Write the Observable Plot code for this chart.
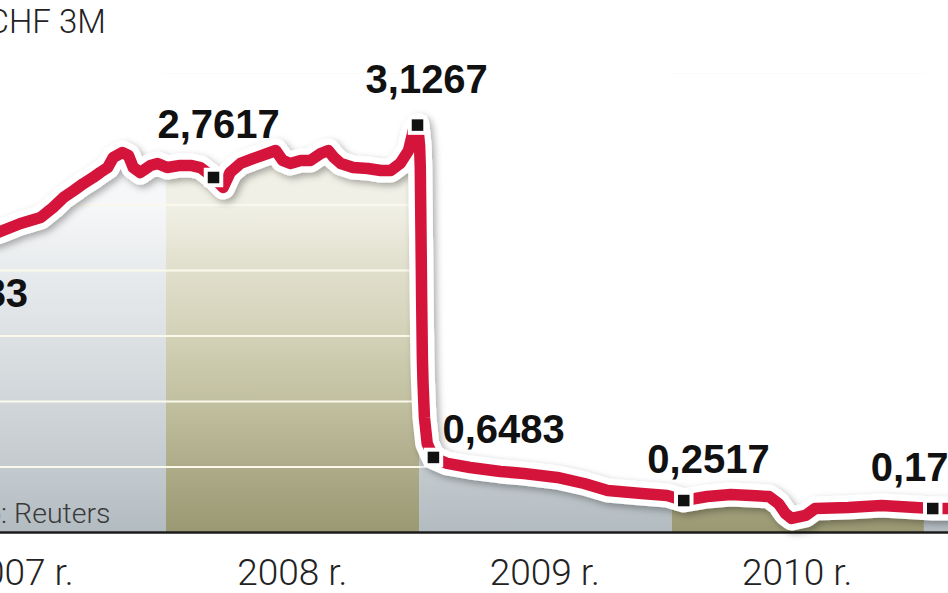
<!DOCTYPE html>
<html>
<head>
<meta charset="utf-8">
<script src="https://cdn.jsdelivr.net/npm/d3@7"></script>
<script src="https://cdn.jsdelivr.net/npm/@observablehq/plot@0.6"></script>
<style>
  html, body { margin: 0; padding: 0; background: #fff; }
  #wrap { position: relative; width: 948px; height: 593px; overflow: hidden; background: #fff; }
  #chart { position: absolute; left: -130px; top: 40px; width: 1130px; }
  #title { position: absolute; top: 1.7px; left: -110px; font: 300 33px Roboto, sans-serif; line-height: 40px; color: #222; white-space: nowrap; z-index: 2; }
</style>
</head>
<body>
<div id="wrap">
  <div id="chart"></div>
  <div id="title"></div>
</div>
<script>
// ---------- data ----------
const titleLead = "LIBOR ";
const titleMain = "CHF 3M";
const sourceText = "Źródło: Reuters";

const lineDates = [
  "2007-01-02","2007-02-08","2007-03-16","2007-04-14","2007-05-06","2007-06-04","2007-07-03","2007-07-21",
  "2007-08-05","2007-08-20","2007-09-03","2007-09-17","2007-09-27","2007-10-08","2007-10-16","2007-10-29",
  "2007-11-07","2007-11-14","2007-11-24","2007-12-09","2007-12-19","2008-01-02","2008-01-21","2008-02-05",
  "2008-02-19","2008-03-09","2008-03-23","2008-04-02","2008-04-17","2008-05-06","2008-05-26","2008-06-07",
  "2008-06-17","2008-06-28","2008-07-13","2008-07-27","2008-08-11","2008-08-22","2008-08-30","2008-09-09",
  "2008-09-27","2008-10-18","2008-11-06","2008-11-20","2008-12-04","2008-12-16","2008-12-23","2008-12-29",
  "2009-01-01","2009-01-02","2009-01-03","2009-01-04","2009-01-05","2009-01-06","2009-01-08","2009-01-12",
  "2009-01-21","2009-02-10","2009-03-15","2009-04-28","2009-06-01","2009-07-19","2009-08-27","2009-09-30",
  "2009-11-18","2009-12-25","2010-01-18","2010-02-21","2010-03-27","2010-05-02","2010-05-21","2010-06-04",
  "2010-06-14","2010-06-23","2010-07-13","2010-07-27","2010-09-13","2010-10-31","2010-12-19","2011-01-13",
  "2011-02-14"
];
const lineValues = [
  2.088,2.153,2.214,2.260,2.298,2.359,2.405,2.481,
  2.557,2.611,2.664,2.710,2.748,2.786,2.863,2.901,
  2.878,2.786,2.748,2.802,2.817,2.786,2.802,2.802,
  2.786,2.710,2.634,2.748,2.817,2.855,2.893,2.916,
  2.840,2.817,2.840,2.840,2.893,2.916,2.863,2.817,
  2.786,2.779,2.763,2.763,2.817,2.916,3.069,3.110,
  2.954,2.786,2.282,1.771,1.336,1.137,0.878,0.679,
  0.573,0.527,0.496,0.466,0.450,0.420,0.374,0.321,
  0.298,0.282,0.244,0.275,0.290,0.280,0.275,0.221,
  0.145,0.107,0.130,0.183,0.191,0.206,0.191,0.183,
  0.183
];

const markerDates  = ["2007-01-02","2008-03-09","2008-12-29","2009-01-21","2010-01-18","2011-01-13"];
const markerValues = [2.088, 2.710, 3.110, 0.573, 0.244, 0.183];
const markerLabels = ["2,0883","2,7617","3,1267","0,6483","0,2517","0,1733"];

const tickDates  = ["2007-06-01","2008-07-01","2009-07-01","2010-07-01"];
const tickLabels = ["2007 r.","2008 r.","2009 r.","2010 r."];
const gridValues = [0.5, 1, 1.5, 2, 2.5];
const bandYears  = [2006, 2007, 2008, 2009, 2010, 2011];

// ---------- presentation ----------
const yTop = 3.5;
const xDomain = [new Date("2006-10-30"), new Date("2011-04-21")];
const labelOffsets = [[-9, 48.5], [-56, -39], [-52, -31.6], [9, -14], [-36.4, -28], [-62, -28]];

const data = lineDates.map((d, i) => ({date: new Date(d), value: lineValues[i]}));
const markers = markerDates.map((d, i) => ({date: new Date(d), value: markerValues[i], label: markerLabels[i]}));
const ticks = tickDates.map(d => new Date(d));
const first = data[0].date, last = data[data.length - 1].date;
const bands = bandYears.map(y => ({
  year: y,
  start: new Date(Math.max(+new Date(`${y}-01-01`), +first)),
  end: new Date(Math.min(+new Date(`${y + 1}-01-01`), +last))
})).filter(b => b.end > b.start);

const labelMarks = markers.map((m, i) => Plot.text([m], {
  x: "date", y: "value", text: "label",
  textAnchor: "start", lineAnchor: "bottom",
  dx: labelOffsets[i][0], dy: labelOffsets[i][1],
  fontSize: 40, fontWeight: "bold", fontFamily: "'Liberation Sans', Arial, sans-serif",
  fill: "#111"
}));

const plot = Plot.plot({
  width: 1130,
  height: 553,
  marginLeft: 0, marginRight: 0, marginTop: 33.5, marginBottom: 61,
  x: {type: "utc", domain: xDomain},
  y: {domain: [0, yTop], axis: null},
  style: {background: "transparent", maxWidth: "none", color: "#222", fontFamily: "Roboto, sans-serif"},
  marks: [
    Plot.rect(bands.filter(b => b.year % 2 === 1), {x1: "start", x2: "end", y1: 0, y2: yTop, fill: "url(#gradGrey)"}),
    Plot.rect(bands.filter(b => b.year % 2 === 0), {x1: "start", x2: "end", y1: 0, y2: yTop, fill: "url(#gradOlive)"}),
    Plot.ruleY(gridValues, {stroke: "#fbf9ec", strokeWidth: 2}),
    Plot.areaY(data, {x: "date", y1: "value", y2: yTop, fill: "white"}),
    Plot.ruleY([0], {stroke: "#1b1b1b", strokeWidth: 2.5}),
    Plot.axisX({
      ticks: ticks,
      tickFormat: d => tickLabels[ticks.findIndex(t => +t === +d)],
      tickSize: 0, tickPadding: 26, label: null,
      fontSize: 37, fontWeight: 300, fontFamily: "Roboto, sans-serif", fill: "#222"
    }),
    Plot.line(data, {x: "date", y: "value", stroke: "white", strokeWidth: 24, strokeLinejoin: "round", strokeLinecap: "round"}),
    Plot.line(data, {x: "date", y: "value", stroke: "#d5143b", strokeWidth: 11.5, strokeLinejoin: "round", strokeLinecap: "butt"}),
    Plot.dot(markers, {x: "date", y: "value", symbol: "square", r: 11, fill: "white", stroke: "none"}),
    Plot.dot(markers, {x: "date", y: "value", symbol: "square", r: 6.5, fill: "#111", stroke: "none"}),
    ...labelMarks,
    Plot.text([sourceText], {
      frameAnchor: "bottom-left", text: d => d,
      textAnchor: "end", lineAnchor: "bottom", dx: 240, dy: -10,
      fontSize: 28.5, fontWeight: 300, fontFamily: "Roboto, sans-serif", fill: "#3a3a3a"
    })
  ]
});

// gradients & shadow (styling)
const ys = plot.scale("y");
const gy1 = ys.apply(2.5), gy2 = ys.apply(0);
const defs = d3.select(plot).insert("defs", ":first-child");
function gradient(id, stops) {
  const g = defs.append("linearGradient").attr("id", id)
    .attr("gradientUnits", "userSpaceOnUse")
    .attr("x1", 0).attr("x2", 0).attr("y1", gy1).attr("y2", gy2);
  stops.forEach(([o, c]) => g.append("stop").attr("offset", o).attr("stop-color", c));
}
gradient("gradGrey", [[0, "#f6f7f8"], [0.2, "#e8ebed"], [0.4, "#dde1e4"], [0.6, "#d0d6d9"], [0.8, "#c4cbcf"], [1, "#b2bbc0"]]);
gradient("gradOlive", [[0, "#f1f0e6"], [0.2, "#e0dfcc"], [0.4, "#d3d1b7"], [0.6, "#c1c0a0"], [0.8, "#aeac89"], [1, "#9a9973"]]);
const flt = defs.append("filter").attr("id", "shadow")
  .attr("x", "-5%").attr("y", "-5%").attr("width", "115%").attr("height", "115%");
flt.append("feDropShadow").attr("dx", 3).attr("dy", 3).attr("stdDeviation", 3.5)
  .attr("flood-color", "#000").attr("flood-opacity", 0.32);
d3.select(plot).selectAll('g[aria-label="line"]').filter((d, i) => i === 0).attr("filter", "url(#shadow)");

document.getElementById("chart").appendChild(plot);

// title
const titleEl = document.getElementById("title");
const lead = document.createElement("span");
lead.textContent = titleLead;
titleEl.appendChild(lead);
titleEl.appendChild(document.createTextNode(titleMain));
titleEl.style.left = (-12.5 - lead.getBoundingClientRect().width) + "px";
</script>
</body>
</html>
